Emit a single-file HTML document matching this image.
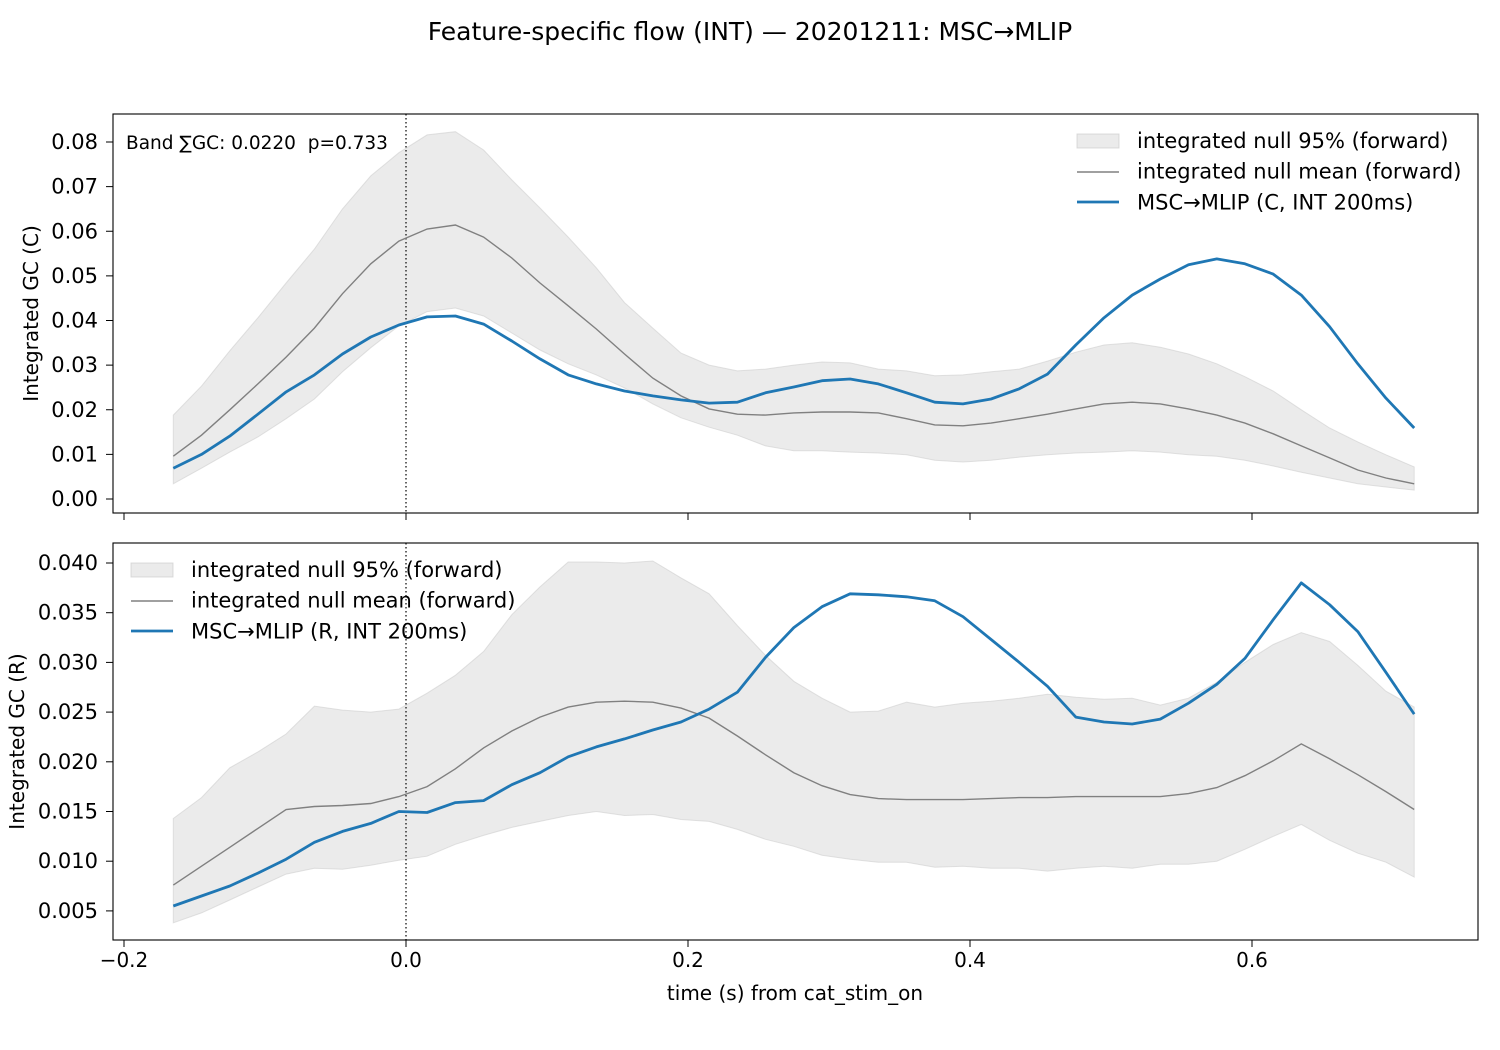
<!DOCTYPE html>
<html><head><meta charset="utf-8"><style>
html,body{margin:0;padding:0;background:#fff}
svg{display:block;font-family:"DejaVu Sans","Liberation Sans",sans-serif}
text{white-space:pre}
</style></head><body>
<svg id="fig" width="1500" height="1050" viewBox="0 0 1500 1050" xmlns="http://www.w3.org/2000/svg">
<rect width="1500" height="1050" fill="#fff"/>
<text x="750" y="40" style="font-size:25px" text-anchor="middle">Feature-specific flow (INT) — 20201211: MSC→MLIP</text>
<g id="top"></g>
<g id="bot"></g>
<text x="795" y="1000" style="font-size:20px" text-anchor="middle">time (s) from cat_stim_on</text>
</svg>
<script>
const times = [];
for (let i = 0; i < 45; i++) times.push(-0.165 + 0.02 * i);

const topBlue = [0.0069,0.0100,0.0141,0.019,0.024,0.0278,0.0325,0.0363,0.039,0.0408,0.041,0.0392,0.0354,0.0314,0.0278,0.0258,0.0242,0.0231,0.0222,0.0215,0.0217,0.0238,0.0251,0.0265,0.0269,0.0258,0.0238,0.0217,0.0213,0.0224,0.0247,0.028,0.0345,0.0406,0.0457,0.0493,0.0525,0.0538,0.0527,0.0504,0.0457,0.0386,0.0303,0.0226,0.0159];
const topMean = [0.0096,0.0143,0.020,0.0258,0.0318,0.0383,0.046,0.0527,0.0578,0.0605,0.0614,0.0587,0.054,0.0484,0.0433,0.0381,0.0325,0.0271,0.0231,0.0202,0.019,0.0188,0.0193,0.0195,0.0195,0.0193,0.018,0.0166,0.0164,0.017,0.018,0.019,0.0202,0.0213,0.0217,0.0213,0.0202,0.0188,0.017,0.0146,0.0119,0.0092,0.0065,0.0047,0.0034];
const topHi = [0.0188,0.0253,0.0332,0.0406,0.0484,0.056,0.065,0.0724,0.0776,0.0816,0.0823,0.0782,0.0715,0.0652,0.0587,0.0518,0.044,0.0383,0.0327,0.030,0.0287,0.0291,0.030,0.0307,0.0305,0.0291,0.0287,0.0276,0.0278,0.0285,0.0291,0.0309,0.0329,0.0345,0.035,0.034,0.0325,0.0303,0.0274,0.0242,0.020,0.0159,0.0128,0.0099,0.0072];
const topLo = [0.0034,0.0069,0.0105,0.0139,0.018,0.0224,0.0285,0.0339,0.0388,0.042,0.0428,0.041,0.0372,0.0334,0.0303,0.0278,0.0249,0.0213,0.0182,0.0161,0.0143,0.0119,0.0108,0.0108,0.0105,0.0103,0.0099,0.0087,0.0083,0.0087,0.0094,0.0099,0.0103,0.0105,0.0108,0.0105,0.0099,0.0096,0.0087,0.0074,0.006,0.0047,0.0034,0.0027,0.002];

const botBlue = [0.00549,0.0065,0.0075,0.0088,0.0102,0.0119,0.013,0.0138,0.015,0.0149,0.0159,0.0161,0.0177,0.0189,0.0205,0.0215,0.0223,0.0232,0.024,0.0253,0.027,0.0305,0.0335,0.0356,0.0369,0.0368,0.0366,0.0362,0.0346,0.0323,0.030,0.0276,0.0245,0.024,0.0238,0.0243,0.0259,0.0278,0.0304,0.0343,0.038,0.0358,0.0331,0.029,0.0248];
const botMean = [0.0076,0.0095,0.0114,0.0133,0.0152,0.0155,0.0156,0.0158,0.0165,0.0175,0.0193,0.0214,0.0231,0.0245,0.0255,0.026,0.0261,0.026,0.0254,0.0244,0.0226,0.0207,0.0189,0.0176,0.0167,0.0163,0.0162,0.0162,0.0162,0.0163,0.0164,0.0164,0.0165,0.0165,0.0165,0.0165,0.0168,0.0174,0.0186,0.0201,0.0218,0.0203,0.0187,0.017,0.0152];
const botHi = [0.0143,0.0164,0.0194,0.021,0.0228,0.0256,0.0252,0.025,0.0253,0.0269,0.0287,0.0311,0.0348,0.0376,0.0401,0.0401,0.040,0.0402,0.0385,0.0369,0.0337,0.0307,0.0281,0.0264,0.025,0.0251,0.026,0.0255,0.0259,0.0261,0.0264,0.0268,0.0265,0.0263,0.0264,0.0257,0.0264,0.028,0.030,0.0318,0.033,0.0321,0.0297,0.0271,0.0255];
const botLo = [0.0038,0.0048,0.0061,0.0074,0.0087,0.0093,0.0092,0.0096,0.0101,0.0105,0.0117,0.0126,0.0134,0.014,0.0146,0.015,0.0146,0.0147,0.0142,0.014,0.0132,0.0122,0.0115,0.0106,0.0102,0.0099,0.0099,0.0094,0.0095,0.0093,0.0093,0.009,0.0093,0.0095,0.0093,0.0097,0.0097,0.01,0.0112,0.0125,0.0137,0.0121,0.0108,0.0099,0.0084];

const xTicks = [-0.2, 0.0, 0.2, 0.4, 0.6];
const xTickLabels = ["−0.2","0.0","0.2","0.4","0.6"];
const topYTicks = [0,0.01,0.02,0.03,0.04,0.05,0.06,0.07,0.08];
const topYLabels = ["0.00","0.01","0.02","0.03","0.04","0.05","0.06","0.07","0.08"];
const botYTicks = [0.005,0.01,0.015,0.02,0.025,0.03,0.035,0.04];
const botYLabels = ["0.005","0.010","0.015","0.020","0.025","0.030","0.035","0.040"];

const NS = "http://www.w3.org/2000/svg";
const X = t => 406 + t * 1410;
function mk(parent, tag, attrs) {
  const e = document.createElementNS(NS, tag);
  for (const k in attrs) e.setAttribute(k, attrs[k]);
  parent.appendChild(e);
  return e;
}
function drawPanel(g, top, bottom, Y, yTicks, yLabels, showX, hi, lo, mean, blue, ylabel, ylabelX, leg, legLabels) {
  const L = 113, R = 1478;
  let d = hi.map((v,i)=>(i?'L':'M')+X(times[i]).toFixed(1)+','+Y(v).toFixed(1)).join('');
  for (let i = lo.length-1; i >= 0; i--) d += 'L'+X(times[i]).toFixed(1)+','+Y(lo[i]).toFixed(1);
  const band = mk(g,'path',{d:d+'Z',fill:'#d3d3d3','fill-opacity':'0.45',stroke:'#c8c8c8','stroke-opacity':'0.5'});
  
  
  const vl = mk(g,'line',{x1:X(0),x2:X(0),y1:top,y2:bottom,stroke:'#000','stroke-width':1.2,'stroke-dasharray':'1.5,2.5'});
  
  
  const ml = mk(g,'path',{d:mean.map((v,i)=>(i?'L':'M')+X(times[i]).toFixed(1)+','+Y(v).toFixed(1)).join(''),fill:'none',stroke:'#808080','stroke-width':1.4});
  
  
  const bl = mk(g,'path',{d:blue.map((v,i)=>(i?'L':'M')+X(times[i]).toFixed(1)+','+Y(v).toFixed(1)).join(''),fill:'none',stroke:'#1f77b4','stroke-width':2.8,'stroke-linejoin':'round'});
  
  
  const fr = mk(g,'rect',{x:L,y:top,width:R-L,height:bottom-top,fill:'none',stroke:'#000','stroke-width':1.1});
  
  
  yTicks.forEach((v,i)=>{
    const y = Y(v);
    const tk = mk(g,'line',{x1:L-7,x2:L,y1:y,y2:y,stroke:'#000','stroke-width':1});
    
    
    const tl = mk(g,'text',{x:L-15,y:y+7,style:'font-size:21px','text-anchor':'end'});
    tl.textContent = yLabels[i];
    
    
  });
  xTicks.forEach((v,i)=>{
    const x = X(v);
    const tk = mk(g,'line',{x1:x,x2:x,y1:bottom,y2:bottom+7,stroke:'#000','stroke-width':1});
    
    
    if (showX) {
      const tl = mk(g,'text',{x:x,y:bottom+27,style:'font-size:20px','text-anchor':'middle'});
      tl.textContent = xTickLabels[i];
      
      
    }
  });
  const cy = (top+bottom)/2;
  const yl = mk(g,'text',{x:ylabelX,y:cy,style:'font-size:20px','text-anchor':'middle',transform:`rotate(-90 ${ylabelX} ${cy})`});
  yl.textContent = ylabel;
  
  
  const lx = leg[0], ly = leg[1];
  const p = mk(g,'rect',{x:lx,y:ly-7,width:42,height:14,fill:'#d3d3d3','fill-opacity':0.45,stroke:'#c8c8c8','stroke-opacity':0.6});
  
  
  const l1 = mk(g,'line',{x1:lx,x2:lx+42,y1:ly+31,y2:ly+31,stroke:'#808080','stroke-width':1.4});
  
  
  const l2 = mk(g,'line',{x1:lx,x2:lx+42,y1:ly+61,y2:ly+61,stroke:'#1f77b4','stroke-width':2.8});
  
  
  legLabels.forEach((s,i)=>{
    const t = mk(g,'text',{x:lx+60,y:ly+7+i*30.7,style:'font-size:21px'});
    t.textContent = s;
    
    
  });
}
const gTop = document.getElementById('top');
drawPanel(gTop,114,513,v=>499-v*4462.5,topYTicks,topYLabels,false,topHi,topLo,topMean,topBlue,'Integrated GC (C)',38,[1077,141],
  ['integrated null 95% (forward)','integrated null mean (forward)','MSC→MLIP (C, INT 200ms)']);
const ann = mk(gTop,'text',{x:126,y:149,style:'font-size:18.5px'});
ann.textContent = 'Band ∑GC: 0.0220  p=0.733';


drawPanel(document.getElementById('bot'),543,940,v=>563+(0.040-v)*9940,botYTicks,botYLabels,true,botHi,botLo,botMean,botBlue,'Integrated GC (R)',24,[131,570],
  ['integrated null 95% (forward)','integrated null mean (forward)','MSC→MLIP (R, INT 200ms)']);
</script>
</body></html>
